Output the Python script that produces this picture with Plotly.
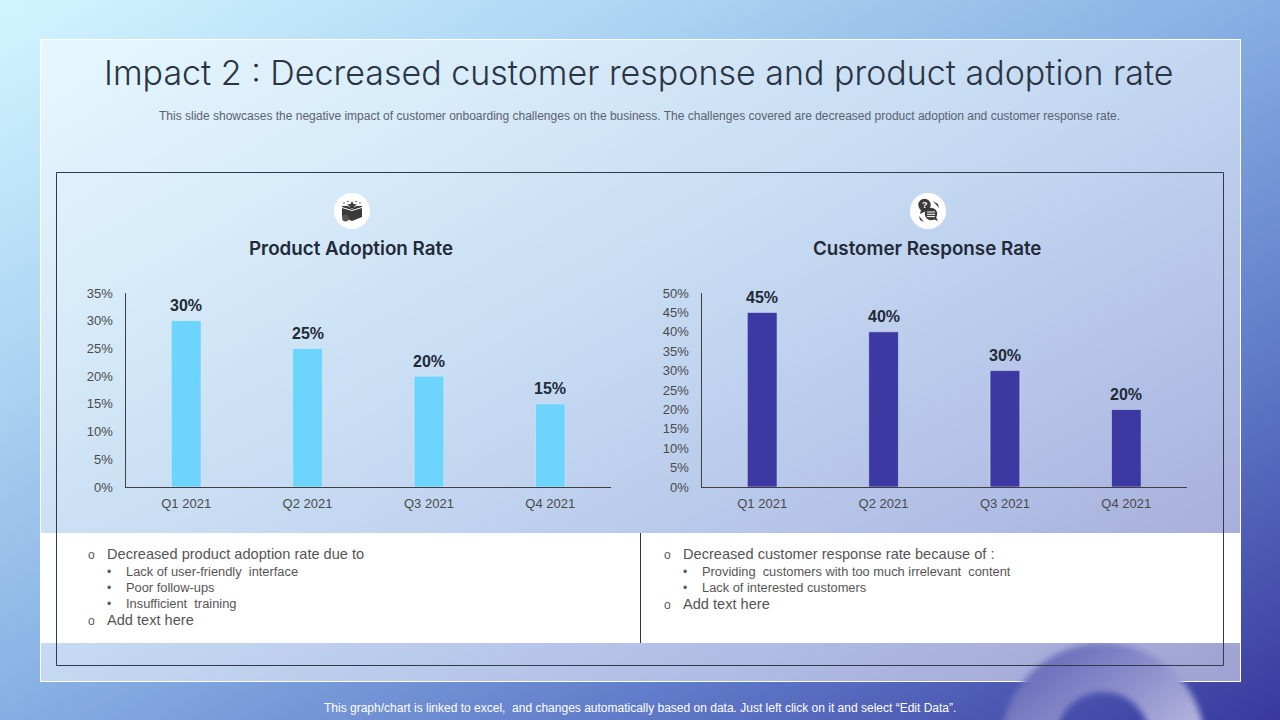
import base64
import plotly.graph_objects as go

W, H = 1280, 720

# ---- data ----
quarters = ["Q1 2021", "Q2 2021", "Q3 2021", "Q4 2021"]
adoption_values = [30, 25, 20, 15]
response_values = [45, 40, 30, 20]
adoption_title = "Product Adoption Rate"
response_title = "Customer Response Rate"
main_title = "Impact 2 : Decreased customer response and product adoption rate"
subtitle = ("This slide showcases the negative impact of customer onboarding challenges on the business. "
            "The challenges covered are decreased product adoption and customer response rate.")
footer = "This graph/chart is linked to excel,  and changes automatically based on data. Just left click on it and select “Edit Data”."
left_notes = [("o", "Decreased product adoption rate due to", 554), ("•", "Lack of user-friendly  interface", 571.5),
              ("•", "Poor follow-ups", 587.5), ("•", "Insufficient  training", 603.5), ("o", "Add text here", 620)]
right_notes = [("o", "Decreased customer response rate because of :", 554),
               ("•", "Providing  customers with too much irrelevant  content", 571.5),
               ("•", "Lack of interested customers", 587.5), ("o", "Add text here", 604)]

TITLE_FONT = "Inter"
BODY_FONT = "Liberation Sans"


def px(x):
    return x / W


def py(y):
    return 1 - y / H


svg = f'''<svg xmlns="http://www.w3.org/2000/svg" width="{W}" height="{H}" viewBox="0 0 {W} {H}">
<defs>
<linearGradient id="bg" x1="0" y1="0" x2="1" y2="1">
<stop offset="0" stop-color="#d2f5ff"/><stop offset="0.25" stop-color="#aed6f3"/>
<stop offset="0.5" stop-color="#87afe3"/><stop offset="0.75" stop-color="#5f79c8"/>
<stop offset="1" stop-color="#39399d"/></linearGradient>
<linearGradient id="ring" x1="0.2" y1="0" x2="0.8" y2="0.75">
<stop offset="0" stop-color="#6468b6"/><stop offset="0.5" stop-color="#9294cf"/>
<stop offset="1" stop-color="#c6c5e6"/></linearGradient>
<filter id="blur" x="-10%" y="-10%" width="120%" height="120%"><feGaussianBlur stdDeviation="3"/></filter>
</defs>
<rect width="{W}" height="{H}" fill="url(#bg)"/>
<rect x="40.5" y="39.5" width="1200" height="642" fill="#ffffff" fill-opacity="0.5" stroke="#ffffff" stroke-width="1"/>
<path d="M1001 745 a102 102 0 1 1 204 0 a102 102 0 1 1 -204 0 Z M1056 739 a47 47 0 1 0 94 0 a47 47 0 1 0 -94 0 Z"
 fill="url(#ring)" fill-rule="evenodd" filter="url(#blur)"/>
</svg>'''
bg_uri = "data:image/svg+xml;base64," + base64.b64encode(svg.encode()).decode()

fig = go.Figure()
fig.add_trace(go.Bar(x=quarters, y=adoption_values, xaxis="x", yaxis="y", marker_color="#6dd4fe"))
fig.add_trace(go.Bar(x=quarters, y=response_values, xaxis="x2", yaxis="y2", marker_color="#3c39a2"))


def xaxis(x0, x1, anchor):
    return dict(domain=[px(x0), px(x1)], anchor=anchor, showgrid=False, showline=True, linecolor="#404040",
                linewidth=1, ticks="", ticklabelstandoff=4, tickfont=dict(family=BODY_FONT, size=13, color="#4a4a4a"),
                type="category")


def yaxis(top, dtick, anchor):
    return dict(domain=[py(487), py(293)], anchor=anchor, range=[0, top], dtick=dtick, ticksuffix="%", showgrid=False,
                zeroline=False, showline=True, linecolor="#404040", linewidth=1, ticks="", ticklabelstandoff=9,
                tickfont=dict(family=BODY_FONT, size=13, color="#4a4a4a"))


shapes = []


def rect(x0, y0, x1, y1, **kw):
    shapes.append(dict(type="rect", xref="paper", yref="paper", x0=px(x0), x1=px(x1), y0=py(y0), y1=py(y1), **kw))


def circle(x, y, r, fill):
    shapes.append(dict(type="circle", xref="paper", yref="paper", x0=px(x - r), x1=px(x + r), y0=py(y - r), y1=py(y + r),
                       fillcolor=fill, line_width=0))


def path(points, fill):
    d = "M" + " L".join(f"{px(a):.5f},{py(b):.5f}" for a, b in points) + " Z"
    shapes.append(dict(type="path", xref="paper", yref="paper", path=d, fillcolor=fill, line_width=0))


rect(41, 533, 1240, 643, fillcolor="#ffffff", line_width=0)
rect(56.5, 172.5, 1223.5, 665.5, line=dict(color="#2f3a4c", width=1), fillcolor="rgba(0,0,0,0)")
shapes.append(dict(type="line", xref="paper", yref="paper", x0=px(640.5), x1=px(640.5), y0=py(533), y1=py(643),
                   line=dict(color="#333333", width=1)))

# icon discs
circle(352, 211, 18, "#ffffff")
circle(928, 211, 18, "#ffffff")
INK = "#3a3a3a"
# gift box icon
path([(342, 208), (352, 211), (362, 208), (362, 217), (352, 221), (342, 217)], INK)
path([(342, 206), (348, 206), (352, 209), (356, 206), (362, 206), (362, 207), (352, 210), (342, 207)], INK)
path([(352, 201), (353.5, 204), (357, 204.5), (354, 206.5), (355, 209), (352, 208), (349, 209), (350, 206.5), (347, 204.5), (350.5, 204)], INK)
circle(345.5, 218, 3.4, "#555555")
for sx, sy in ((344, 203), (348, 201.5), (356, 201.5), (360, 203)):
    circle(sx, sy, 0.7, INK)
# chat icon
circle(924.5, 205, 6.2, INK)
path([(921, 210), (926, 211), (920, 214)], INK)
circle(931, 214, 6.2, INK)
path([(933, 219), (938, 221), (936, 217)], INK)
for ly in (212, 214.3, 216.6):
    rect(927, ly - 0.5, 935, ly + 0.5, fillcolor="#ffffff", line_width=0)
path([(933, 201), (938, 204), (939, 208), (936.5, 205)], INK)
path([(920, 220), (924, 222), (919, 216)], INK)

annotations = []


def label(x, y, text, size, color, family=BODY_FONT, anchor="left", weight=None):
    f = dict(family=family, size=size, color=color)
    if weight:
        f["weight"] = weight
    annotations.append(dict(xref="paper", yref="paper", x=px(x), y=py(y), text=text, showarrow=False, xanchor=anchor,
                            yanchor="middle", borderpad=0, font=f))


label(639, 73, main_title, 34, "#2b3444", TITLE_FONT, "center", 300)
label(639, 116, subtitle, 12, "#5a6270", BODY_FONT, "center")
label(640, 708, footer, 12, "#ffffff", BODY_FONT, "center")
label(351, 248, adoption_title, 18.8, "#222a38", TITLE_FONT, "center", 600)
label(927, 248, response_title, 18.8, "#222a38", TITLE_FONT, "center", 600)
label(924.5, 205, "?", 9, "#ffffff", BODY_FONT, "center", 700)


def notes(rows, x0):
    for mark, text, y in rows:
        if mark == "o":
            label(x0, y + 1, mark, 12, "#555555")
            label(x0 + 19, y, text, 14.6, "#555555")
        else:
            label(x0 + 19, y, mark, 12, "#555555")
            label(x0 + 38, y, text, 12.85, "#555555")


notes(left_notes, 87)
notes(right_notes, 663)

# value labels: placed from the data through each chart's axes
for xa, ya, values in (("x", "y", adoption_values), ("x2", "y2", response_values)):
    for q, v in zip(quarters, values):
        annotations.append(dict(xref=xa, yref=ya, x=q, y=v, yshift=15, text=f"<b>{v}%</b>", showarrow=False,
                                xanchor="center", yanchor="middle", borderpad=0,
                                font=dict(family=BODY_FONT, size=16, color="#222a38")))

fig.update_layout(
    width=W, height=H, autosize=False, margin=dict(l=0, r=0, t=0, b=0, pad=0, autoexpand=False), showlegend=False,
    paper_bgcolor="#87afe3", plot_bgcolor="rgba(0,0,0,0)", bargap=0.755,
    xaxis=xaxis(125.5, 611, "y"), yaxis=yaxis(35, 5, "x"),
    xaxis2=xaxis(701.5, 1187, "y2"), yaxis2=yaxis(50, 5, "x2"),
    shapes=shapes, annotations=annotations,
    images=[dict(source=bg_uri, xref="paper", yref="paper", x=0, y=1, sizex=1, sizey=1, xanchor="left", yanchor="top",
                 sizing="stretch", layer="below")],
)
fig.write_html("out.html", config={"displayModeBar": False},
               post_script="document.body.style.margin='0';document.documentElement.style.overflow='hidden';")
